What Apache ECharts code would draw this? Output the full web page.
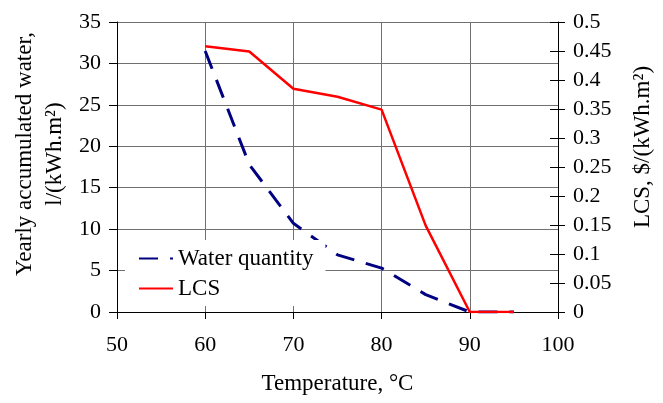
<!DOCTYPE html>
<html>
<head>
<meta charset="utf-8">
<script src="https://cdn.jsdelivr.net/npm/echarts@6/dist/echarts.min.js"></script>
<style>
  html, body { margin: 0; padding: 0; background: #fff; }
  #chart { width: 663px; height: 403px; }
</style>
</head>
<body>
<div id="chart"></div>
<script>
// Temperature (°C) at which each value was computed
const temperatures = [60, 65, 70, 75, 80, 85, 90, 95];
// Yearly accumulated water, l/(kWh.m²)
const waterQuantity = [31.5, 17.8, 10.7, 6.9, 5.3, 2.1, 0, 0];
// Levelised cost, $/(kWh.m²)
const lcs = [0.458, 0.449, 0.385, 0.371, 0.349, 0.149, 0, 0];

const seriesNames = ['Water quantity', 'LCS'];
const xTitle = 'Temperature, °C';
const yLeftTitle = ['Yearly accumulated water,', 'l/(kWh.m²)'];
const yRightTitle = 'LCS, $/(kWh.m²)';

const FONT = '"Liberation Serif", "Times New Roman", serif';
const TICK_SIZE = 22;
const TITLE_SIZE = 23;
const NO_FILL = 'rgba(0,0,0,0)';

const chart = echarts.init(document.getElementById('chart'), null, { renderer: 'canvas' });

const gridBox = { left: 117, right: 105, top: 22, bottom: 91 };

chart.setOption({
  animation: false,
  backgroundColor: '#ffffff',
  textStyle: { fontFamily: FONT },
  grid: Object.assign({ containLabel: false }, gridBox),
  legend: {
    orient: 'vertical',
    left: 125,
    top: 240,
    padding: [7, 12, 6, 13],
    backgroundColor: '#ffffff',
    itemWidth: 34,
    itemHeight: 14,
    itemGap: 7,
    itemStyle: { opacity: 0, borderWidth: 0 },
    textStyle: { fontFamily: FONT, fontSize: TITLE_SIZE, color: '#000' },
    data: seriesNames
  },
  xAxis: {
    type: 'value',
    min: 50,
    max: 100,
    interval: 10,
    name: xTitle,
    nameLocation: 'middle',
    nameGap: 60,
    nameTextStyle: { fontFamily: FONT, fontSize: TITLE_SIZE, color: '#000' },
    axisLine: { show: true, onZero: false, lineStyle: { color: '#000', width: 1 } },
    axisTick: { show: true, inside: false, length: 7, lineStyle: { color: '#000' } },
    axisLabel: { fontFamily: FONT, fontSize: TICK_SIZE, color: '#000', margin: 22 },
    splitLine: { show: true, lineStyle: { color: '#707070', width: 1 } }
  },
  yAxis: [
    {
      type: 'value',
      position: 'left',
      min: 0,
      max: 35,
      interval: 5,
      axisLine: { show: true, lineStyle: { color: '#000', width: 1 } },
      axisTick: { show: true, inside: false, length: 8, lineStyle: { color: '#000' } },
      axisLabel: { fontFamily: FONT, fontSize: TICK_SIZE, color: '#000', margin: 16 },
      splitLine: { show: true, lineStyle: { color: '#707070', width: 1 } }
    },
    {
      type: 'value',
      position: 'right',
      min: 0,
      max: 0.5,
      interval: 0.05,
      axisLine: { show: true, lineStyle: { color: '#000', width: 1 } },
      axisTick: { show: true, inside: false, length: 7, lineStyle: { color: '#000' } },
      axisLabel: {
        fontFamily: FONT, fontSize: TICK_SIZE, color: '#000', margin: 15,
        formatter: v => String(+v.toFixed(2))
      },
      splitLine: { show: false }
    },
    {
      // inner half of the crossing ticks on the right-hand axis
      type: 'value',
      position: 'right',
      min: 0,
      max: 0.5,
      interval: 0.05,
      axisLine: { show: false },
      axisTick: { show: true, inside: true, length: 8, lineStyle: { color: '#000' } },
      axisLabel: { show: false },
      splitLine: { show: false }
    }
  ],
  graphic: [
    {
      type: 'text',
      x: 25,
      y: 154,
      rotation: Math.PI / 2,
      style: {
        text: yLeftTitle[0],
        fontFamily: FONT, fontSize: TITLE_SIZE, fill: '#000',
        align: 'center', verticalAlign: 'middle'
      }
    },
    {
      type: 'text',
      x: 55,
      y: 154,
      rotation: Math.PI / 2,
      style: {
        text: yLeftTitle[1],
        fontFamily: FONT, fontSize: TITLE_SIZE, fill: '#000',
        align: 'center', verticalAlign: 'middle'
      }
    },
    {
      type: 'text',
      x: 643,
      y: 147,
      rotation: Math.PI / 2,
      style: {
        text: yRightTitle,
        fontFamily: FONT, fontSize: TITLE_SIZE, fill: '#000',
        align: 'center', verticalAlign: 'middle'
      }
    }
  ],
  series: [
    {
      name: seriesNames[0],
      type: 'line',
      yAxisIndex: 0,
      data: temperatures.map((t, i) => [t, waterQuantity[i]]),
      symbol: 'none',
      lineStyle: { color: '#000080', width: 3, type: [19, 12], cap: 'butt' },
      itemStyle: { color: NO_FILL, borderWidth: 0 },
      z: 3
    },
    {
      name: seriesNames[1],
      type: 'line',
      yAxisIndex: 1,
      data: temperatures.map((t, i) => [t, lcs[i]]),
      symbol: 'none',
      lineStyle: { color: '#ff0000', width: 2.5, type: 'solid' },
      itemStyle: { color: NO_FILL, borderWidth: 0 },
      z: 4
    }
  ]
});
</script>
</body>
</html>
